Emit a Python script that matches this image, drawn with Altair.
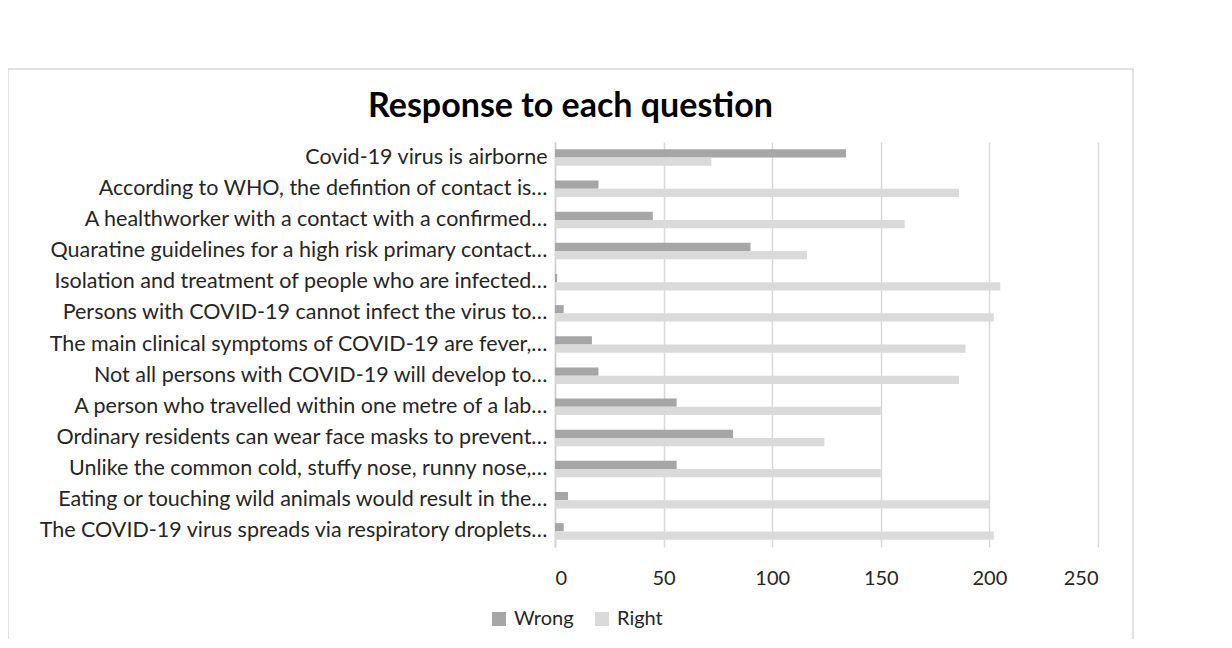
import altair as alt
import pandas as pd

questions = [
    "Covid-19 virus is airborne",
    "According to WHO, the defintion of contact is…",
    "A healthworker with a contact with a confirmed…",
    "Quaratine guidelines for a high risk primary contact…",
    "Isolation and treatment of people who are infected…",
    "Persons with COVID-19 cannot infect the virus to…",
    "The main clinical symptoms of COVID-19 are fever,…",
    "Not all persons with COVID-19 will develop to…",
    "A person who travelled within one metre of a lab…",
    "Ordinary residents can wear face masks to prevent…",
    "Unlike the common cold, stuffy nose, runny nose,…",
    "Eating or touching wild animals would result in the…",
    "The COVID-19 virus spreads via respiratory droplets…",
]
wrong = [134, 20, 45, 90, 1, 4, 17, 20, 56, 82, 56, 6, 4]
right = [72, 186, 161, 116, 205, 202, 189, 186, 150, 124, 150, 200, 202]
series = ["Wrong", "Right"]
colors = ["#a6a6a6", "#dadada"]
x_ticks = [0, 50, 100, 150, 200, 250]

rows = []
for q, w, r in zip(questions, wrong, right):
    rows.append({"question": q, "series": "Wrong", "value": w})
    rows.append({"question": q, "series": "Right", "value": r})
df = pd.DataFrame(rows)

FONT = "Lato"
W, H = 543, 405

bars = alt.Chart(df).mark_bar().encode(
    y=alt.Y(
        "question:N", sort=questions, title=None,
        scale=alt.Scale(paddingInner=0.47, paddingOuter=0.235),
        axis=alt.Axis(labelFontSize=21.5, labelFont=FONT, labelColor="#262626",
                      ticks=False, domainColor="#cfcfcf", domainWidth=1.5,
                      labelPadding=8, labelLimit=700, grid=False),
    ),
    yOffset=alt.YOffset("series:N", sort=series,
                        scale=alt.Scale(paddingInner=0, paddingOuter=0)),
    x=alt.X(
        "value:Q", title=None,
        scale=alt.Scale(domain=[0, 250], nice=False),
        axis=alt.Axis(values=x_ticks, grid=True, gridColor="#d9d9d9", gridWidth=1.5,
                      domain=False, ticks=False, labelFontSize=20, labelFont=FONT,
                      labelColor="#262626", labelPadding=21),
    ),
    color=alt.Color(
        "series:N", sort=series,
        scale=alt.Scale(domain=series, range=colors),
        legend=alt.Legend(title=None, orient="none", legendX=-66, legendY=467,
                          direction="horizontal", symbolType="square", symbolSize=196,
                          symbolStrokeWidth=0, labelFontSize=20, labelFont=FONT,
                          labelColor="#262626", columnPadding=18, labelOffset=5),
    ),
)

frame = alt.Chart(pd.DataFrame({"k": [0]})).mark_rect(
    fill="transparent", stroke="#d9d9d9", strokeWidth=1.5
).encode(
    x=alt.value(-547), x2=alt.value(578), y=alt.value(-73), y2=alt.value(505)
)

chart = alt.layer(frame, bars).properties(
    width=W, height=H,
    title=alt.TitleParams("Response to each question", fontSize=34, font=FONT,
                          fontWeight="bold", color="#000000", anchor="middle",
                          frame="bounds", dy=60),
    autosize=alt.AutoSizeParams(type="none"),
    padding={"left": 547, "top": 134, "right": 120, "bottom": 92},
).configure_view(stroke=None)

chart.save("out.html", embed_options={"renderer": "svg", "actions": False})
